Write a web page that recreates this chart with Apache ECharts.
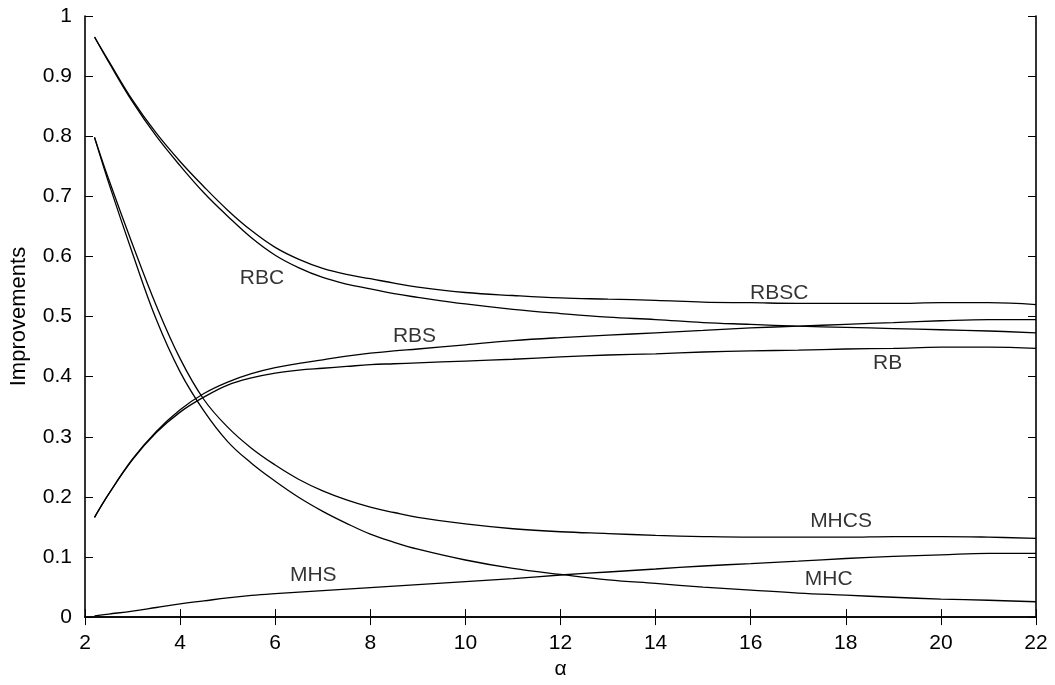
<!DOCTYPE html>
<html>
<head>
<meta charset="utf-8">
<script src="https://cdn.jsdelivr.net/npm/echarts@6/dist/echarts.min.js"></script>
<style>html,body{margin:0;padding:0;background:#fff}#c{width:1055px;height:685px}</style>
</head>
<body>
<div id="c"></div>
<script>
const alphaX = [2.2, 2.5, 3, 3.5, 4, 4.5, 5, 5.5, 6, 6.5, 7, 7.5, 8, 8.5, 9, 10, 11, 12, 13, 14, 15, 16, 17, 18, 19, 20, 21, 22];
const RBSC = [0.965, 0.925, 0.860, 0.805, 0.758, 0.716, 0.677, 0.643, 0.615, 0.595, 0.580, 0.570, 0.563, 0.5555, 0.549, 0.540, 0.535, 0.531, 0.529, 0.527, 0.524, 0.523, 0.522, 0.522, 0.522, 0.523, 0.523, 0.520];
const RBC  = [0.965, 0.923, 0.857, 0.800, 0.751, 0.706, 0.667, 0.631, 0.602, 0.581, 0.565, 0.554, 0.546, 0.538, 0.532, 0.521, 0.512, 0.505, 0.499, 0.495, 0.490, 0.487, 0.484, 0.482, 0.480, 0.478, 0.476, 0.473];
const RBS  = [0.166, 0.205, 0.263, 0.309, 0.345, 0.372, 0.391, 0.405, 0.415, 0.422, 0.428, 0.434, 0.439, 0.443, 0.446, 0.453, 0.460, 0.465, 0.469, 0.473, 0.477, 0.481, 0.484, 0.487, 0.490, 0.493, 0.495, 0.495];
const RB   = [0.166, 0.205, 0.262, 0.307, 0.341, 0.366, 0.386, 0.398, 0.406, 0.411, 0.414, 0.417, 0.420, 0.4215, 0.423, 0.426, 0.429, 0.433, 0.436, 0.438, 0.441, 0.443, 0.444, 0.446, 0.447, 0.449, 0.449, 0.447];
const MHCS = [0.798, 0.728, 0.620, 0.518, 0.430, 0.362, 0.316, 0.281, 0.253, 0.229, 0.210, 0.195, 0.183, 0.174, 0.166, 0.155, 0.147, 0.142, 0.139, 0.136, 0.134, 0.133, 0.133, 0.133, 0.134, 0.134, 0.133, 0.131];
const MHC  = [0.798, 0.722, 0.605, 0.495, 0.408, 0.343, 0.292, 0.256, 0.226, 0.199, 0.176, 0.156, 0.138, 0.1245, 0.113, 0.095, 0.081, 0.071, 0.062, 0.056, 0.050, 0.045, 0.040, 0.0365, 0.033, 0.030, 0.028, 0.0255];
const MHS  = [0.002, 0.005, 0.010, 0.016, 0.022, 0.027, 0.032, 0.036, 0.039, 0.0415, 0.044, 0.0465, 0.049, 0.0515, 0.054, 0.059, 0.064, 0.070, 0.075, 0.080, 0.085, 0.089, 0.093, 0.0975, 0.101, 0.1035, 0.106, 0.106];

const labelNames = ['RBC', 'RBSC', 'RBS', 'RB', 'MHCS', 'MHC', 'MHS'];
const labelX = [5.72, 16.6, 8.93, 18.88, 17.9, 17.64, 6.8];
const labelY = [0.563, 0.539, 0.467, 0.422, 0.160, 0.063, 0.069];

const seriesList = [['RBSC', RBSC], ['RBC', RBC], ['RBS', RBS], ['RB', RB], ['MHCS', MHCS], ['MHC', MHC], ['MHS', MHS]];

const FONT = 'Liberation Sans, Arial, Helvetica, sans-serif';
const chart = echarts.init(document.getElementById('c'), null, {renderer: 'canvas'});

const baseAxis = {
  axisLine: {show: true, lineStyle: {color: '#000', width: 1.6}},
  axisTick: {show: true, inside: true, length: 8, lineStyle: {color: '#000', width: 1}},
  splitLine: {show: false}
};

const option = {
  animation: false,
  backgroundColor: '#fff',
  grid: {left: 85, right: 19, top: 16, bottom: 67, containLabel: false},
  xAxis: [
    Object.assign({}, baseAxis, {
      type: 'value', min: 2, max: 22, interval: 2, position: 'bottom',
      axisLabel: {color: '#000', fontSize: 21, fontFamily: FONT, margin: 16},
      name: 'α', nameLocation: 'middle', nameGap: 31,
      nameTextStyle: {color: '#000', fontSize: 21, fontFamily: FONT}
    }),
    Object.assign({}, baseAxis, {
      type: 'value', min: 2, max: 22, interval: 2, position: 'top',
      axisLabel: {show: false}
    })
  ],
  yAxis: [
    Object.assign({}, baseAxis, {
      type: 'value', min: 0, max: 1, interval: 0.1, position: 'left',
      axisLabel: {color: '#000', fontSize: 21, fontFamily: FONT, margin: 13,
        formatter: v => String(Math.round(v * 10) / 10)},
      name: 'Improvements', nameLocation: 'middle', nameGap: 55, nameRotate: 90,
      nameTextStyle: {color: '#000', fontSize: 22, fontFamily: FONT}
    }),
    Object.assign({}, baseAxis, {
      type: 'value', min: 0, max: 1, interval: 0.1, position: 'right',
      axisLabel: {show: false}
    })
  ],
  series: seriesList.map(([name, vals]) => ({
    name: name,
    type: 'line',
    data: alphaX.map((x, i) => [x, vals[i]]),
    smooth: 0.4,
    showSymbol: false,
    symbol: 'none',
    lineStyle: {color: '#000', width: 1.3},
    z: 3
  })).concat([{
    type: 'scatter',
    symbolSize: 0,
    data: labelNames.map((n, i) => ({name: n, value: [labelX[i], labelY[i]]})),
    label: {show: true, position: 'inside', formatter: p => p.name,
      color: '#000', fontSize: 21, fontFamily: FONT},
    silent: true,
    z: 4
  }])
};
chart.setOption(option);
</script>
</body>
</html>
